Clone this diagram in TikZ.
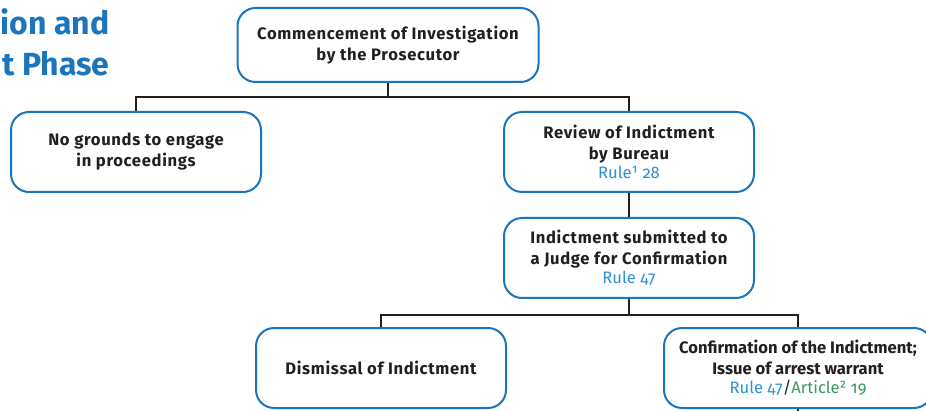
\documentclass[tikz,border=0pt]{standalone}
\usepackage{fontspec}
\setmainfont{Fira Sans}[Numbers=OldStyle]
\usetikzlibrary{positioning,calc}
\definecolor{phaseblue}{HTML}{1B75BC}
\definecolor{ruleblue}{HTML}{2E8FD4}
\definecolor{articlegreen}{HTML}{3A9A5B}
\definecolor{boxtext}{HTML}{231F20}
\newcommand{\spaced}{\addfontfeature{LetterSpace=4}}
\newcommand{\rulenote}[1]{\\[-1pt]{\mdseries\color{ruleblue}#1}}
\tikzset{
  basic/.style  = {draw=phaseblue, line width=1pt, rounded corners=9pt,
                   align=center, inner sep=0pt, text=boxtext,
                   font=\bfseries\fontsize{8.3}{10.5}\selectfont},
  stage/.style  = {basic, minimum width=125pt, minimum height=40pt},
  heading/.style = {align=right, inner sep=0pt, text=phaseblue,
                   font=\bfseries\fontsize{16}{20.5}\selectfont},
  edge/.style   = {draw, line width=0.75pt, boxtext}
}
\begin{document}
\begin{tikzpicture}[x=0.5pt, y=-0.5pt]
    \useasboundingbox (0,0) rectangle (926,411);
    \node[heading, anchor=north east] (title) at (110,8) {ion and\\t Phase};
    % boxes
    \node[basic, minimum width=150.5pt, minimum height=37pt] (start) at (388,45)
        {\spaced Commencement of Investigation\\\spaced by the Prosecutor};
    \node[stage] (nogrounds) at (136,152)
        {\spaced No grounds to engage\\\spaced in proceedings};
    \node[stage] (review) at (629,152)
        {\spaced Review of Indictment\\\spaced by Bureau\rulenote{Rule¹ 28}};
    \node[stage] (submitted) at (629,258)
        {\spaced Indictment submitted to\\\spaced a Judge for Confirmation\rulenote{Rule 47}};
    \node[stage] (dismissal) at (381,368) {\spaced Dismissal of Indictment};
    \node[stage, minimum width=134pt] (confirm) at (798,368)
        {Confirmation of the Indictment;\\Issue of arrest warrant%
         \rulenote{Rule 47\textcolor{boxtext}{/}\textcolor{articlegreen}{Article² 19}}};
    % connectors
    \coordinate (busA) at (388,97);
    \coordinate (busB) at (629,315);
    \coordinate (onward) at (798,420);
    \draw[edge] (start) -- (busA);
    \draw[edge] (nogrounds.north) |- (busA) -| (review.north);
    \draw[edge] (review) -- (submitted);
    \draw[edge] (submitted) -- (busB);
    \draw[edge] (dismissal.north) |- (busB) -| (confirm.north);
    \draw[edge] (confirm) -- (onward);
  \end{tikzpicture}
\end{document}
